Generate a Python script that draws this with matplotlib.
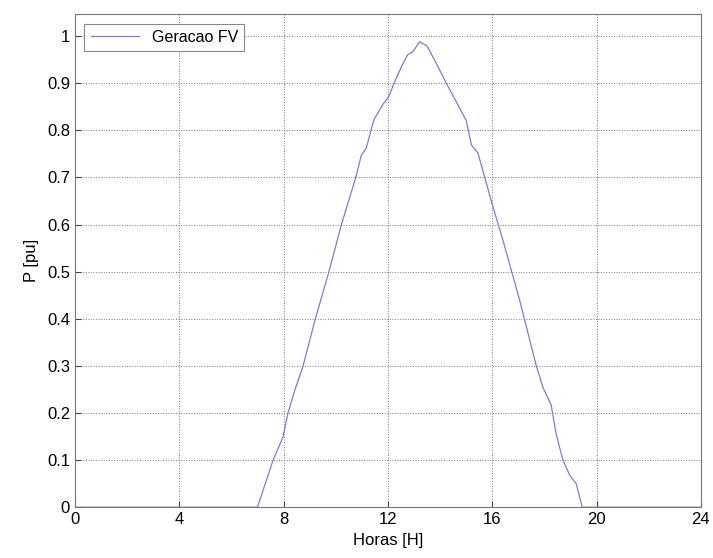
import numpy as np
import matplotlib
matplotlib.use("Agg")
import matplotlib.pyplot as plt

plt.rcParams["font.family"] = ["Liberation Sans", "DejaVu Sans"]

# PV generation profile (hours, per unit)
horas = [0, 7.0, 7.6, 7.98, 8.17, 8.43, 8.75, 9.22, 9.74, 10.22, 10.77,
         10.98, 11.17, 11.40, 11.49, 11.81, 12.03, 12.26, 12.52, 12.75,
         12.96, 13.22, 13.50, 13.86, 14.24, 14.62, 15.01, 15.20, 15.45,
         15.71, 15.99, 16.41, 17.05, 17.54, 17.69, 17.94, 18.26, 18.45,
         18.71, 18.97, 19.22, 19.45, 24]
potencia = [0, 0, 0.10, 0.149, 0.20, 0.248, 0.30, 0.40, 0.50, 0.60, 0.70,
            0.747, 0.762, 0.81, 0.825, 0.855, 0.871, 0.903, 0.935, 0.96,
            0.967, 0.988, 0.979, 0.942, 0.90, 0.861, 0.82, 0.769, 0.752,
            0.701, 0.645, 0.567, 0.44, 0.333, 0.30, 0.255, 0.217, 0.156,
            0.10, 0.068, 0.05, 0.0, 0]

x_ticks = np.arange(0, 25, 4)
y_ticks = np.round(np.arange(0, 1.01, 0.1), 1)

fig = plt.figure(figsize=(7.13, 5.58), dpi=100)
ax = fig.add_axes([0.105, 0.091, 0.878, 0.884])

ax.plot(horas, potencia, color="#7b7bdc", linewidth=0.9, label="Geracao FV")

ax.set_xlim(0, 24)
ax.set_ylim(0, 1.047)
ax.set_xticks(x_ticks)
ax.set_yticks(y_ticks)
ax.set_yticklabels([f"{v:g}" for v in y_ticks])
ax.grid(True, linestyle=":", color="#777777", linewidth=0.7)
ax.tick_params(direction="in", length=4, labelsize=12, color="#444444")
for s in ax.spines.values():
    s.set_color("#777777")
    s.set_linewidth(0.8)

ax.set_xlabel("Horas [H]", fontsize=12, labelpad=4)
ax.set_ylabel("P [pu]", fontsize=12, labelpad=6)

leg = ax.legend(loc="upper left", fontsize=11.5, fancybox=False,
                framealpha=1, edgecolor="#888888", handlelength=3.0,
                borderaxespad=0.6)
leg.get_frame().set_linewidth(0.8)

fig.savefig("out.png", dpi=100)
